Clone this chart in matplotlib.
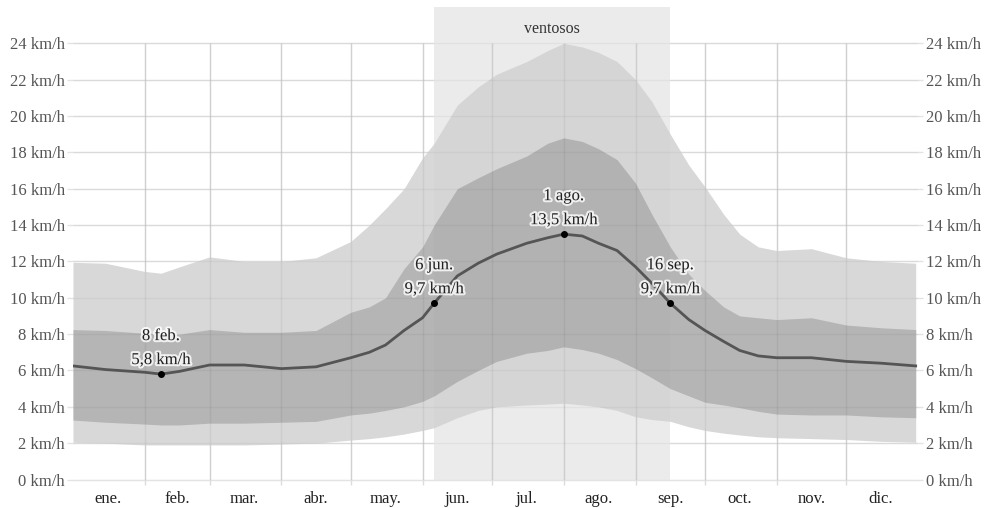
import numpy as np
import matplotlib.pyplot as plt
import matplotlib.patheffects as pe

# day of year (0 = 1 ene.) and wind speed percentiles, km/h
days = [0, 14, 31, 38, 46, 59, 74, 90, 105, 120, 128, 135, 143, 151, 156, 166, 175, 183,
        196, 205, 212, 220, 227, 235, 243, 250, 258, 266, 273, 281, 288, 296, 304, 319,
        334, 349, 364]
p50 = [6.25, 6.05, 5.9, 5.8, 5.95, 6.3, 6.3, 6.1, 6.2, 6.7, 7.0, 7.4, 8.2, 8.9, 9.7, 11.2,
       11.9, 12.4, 13.0, 13.3, 13.5, 13.4, 13.0, 12.6, 11.7, 10.8, 9.7, 8.8, 8.2, 7.6, 7.1,
       6.8, 6.7, 6.7, 6.5, 6.4, 6.25]
p75 = [8.25, 8.2, 8.05, 8.0, 8.0, 8.25, 8.1, 8.1, 8.2, 9.2, 9.5, 10.0, 11.6, 12.8, 14.0,
       16.0, 16.6, 17.1, 17.8, 18.5, 18.8, 18.6, 18.2, 17.6, 16.3, 14.6, 12.8, 11.3, 10.4,
       9.5, 9.0, 8.9, 8.8, 8.9, 8.5, 8.35, 8.25]
p25 = [3.27, 3.15, 3.05, 3.0, 3.0, 3.1, 3.1, 3.15, 3.2, 3.55, 3.65, 3.8, 4.0, 4.3, 4.6,
       5.4, 6.0, 6.5, 6.95, 7.1, 7.3, 7.15, 6.95, 6.6, 6.1, 5.6, 5.0, 4.6, 4.25, 4.1, 3.95,
       3.75, 3.6, 3.55, 3.55, 3.45, 3.4]
p90 = [11.95, 11.9, 11.45, 11.35, 11.7, 12.25, 12.0, 12.0, 12.2, 13.1, 14.0, 14.9, 16.0,
       17.7, 18.5, 20.6, 21.6, 22.3, 23.0, 23.6, 24.0, 23.8, 23.5, 23.0, 22.0, 20.8, 19.0,
       17.3, 16.1, 14.6, 13.5, 12.8, 12.6, 12.7, 12.2, 12.0, 11.9]
p10 = [2.05, 2.0, 1.9, 1.9, 1.9, 1.9, 1.9, 1.95, 2.0, 2.17, 2.25, 2.35, 2.5, 2.7, 2.85,
       3.4, 3.8, 4.0, 4.1, 4.15, 4.2, 4.1, 4.0, 3.8, 3.45, 3.3, 3.2, 2.9, 2.7, 2.55, 2.45,
       2.35, 2.3, 2.25, 2.2, 2.1, 2.05]

month_starts = [31, 59, 90, 120, 151, 181, 212, 243, 273, 304, 334]
month_mid = [15, 45, 74, 105, 135, 166, 196, 227, 258, 288, 319, 349]
month_labels = ["ene.", "feb.", "mar.", "abr.", "may.", "jun.", "jul.", "ago.", "sep.",
                "oct.", "nov.", "dic."]
yticks = list(range(0, 25, 2))

windy_start, windy_end = 156, 258
mark_days = [38, 156, 212, 258]
mark_vals = [5.8, 9.7, 13.5, 9.7]
mark_dates = ["8 feb.", "6 jun.", "1 ago.", "16 sep."]
mark_texts = ["5,8 km/h", "9,7 km/h", "13,5 km/h", "9,7 km/h"]

plt.rcParams['font.family'] = ['Liberation Serif', 'DejaVu Serif']

fig = plt.figure(figsize=(9.85, 5.08), dpi=100)
ax = fig.add_axes([73/985, 1-479.5/508, 845/985, 472.5/508])
ax.set_xlim(0, 365)
ax.set_ylim(0, 26)
for s in ax.spines.values():
    s.set_visible(False)

# grid
ax.hlines(yticks, -2.5, 367, color='#e3e3e3', lw=1, clip_on=False, zorder=0)
ax.vlines(month_starts, -0.3, 24, color='#dcdcdc', lw=1, clip_on=False, zorder=0.5)

# windy season
ax.axvspan(windy_start, windy_end, color='#eeeeee', lw=0, zorder=0.2)
ax.text((windy_start+windy_end)/2, 24.8, "ventosos", ha='center', va='center',
        fontsize=11.5, color='#333333')

ax.fill_between(days, p10, p90, color='#d8d8d8', lw=0, zorder=1)
ax.fill_between(days, p25, p75, color='#b5b5b5', lw=0, zorder=1.1)
ax.axvspan(windy_start, windy_end, color='black', alpha=0.012, lw=0, zorder=1.2)
ax.vlines(month_starts, 0, 24, color='black', alpha=0.05, lw=1, zorder=1.3)
ax.hlines(yticks, 0, 365, color='black', alpha=0.04, lw=1, zorder=1.3)
ax.plot(days, p50, color='#555555', lw=2, zorder=2)

halo = [pe.withStroke(linewidth=3, foreground=(1, 1, 1, 0.8))]
for d, v, t1, t2 in zip(mark_days, mark_vals, mark_dates, mark_texts):
    ax.plot(d, v, 'o', color='black', ms=4, zorder=3)
    ax.annotate(t2, (d, v), xytext=(0, 14), textcoords='offset pixels', ha='center',
                va='center', fontsize=12, color='#222222', path_effects=halo, zorder=4)
    ax.annotate(t1, (d, v), xytext=(0, 38), textcoords='offset pixels', ha='center',
                va='center', fontsize=12, color='#222222', path_effects=halo, zorder=4)

ax.set_xticks(month_mid)
ax.set_xticklabels(month_labels, fontsize=12, color='#222222')
ax.tick_params(axis='x', length=0, pad=8)

ax.set_yticks(yticks)
ax.set_yticklabels([f"{v} km/h" for v in yticks], fontsize=12, color='#555555')
ax.tick_params(axis='y', length=0, pad=6, labelright=True)

fig.savefig("out.png", dpi=100)
